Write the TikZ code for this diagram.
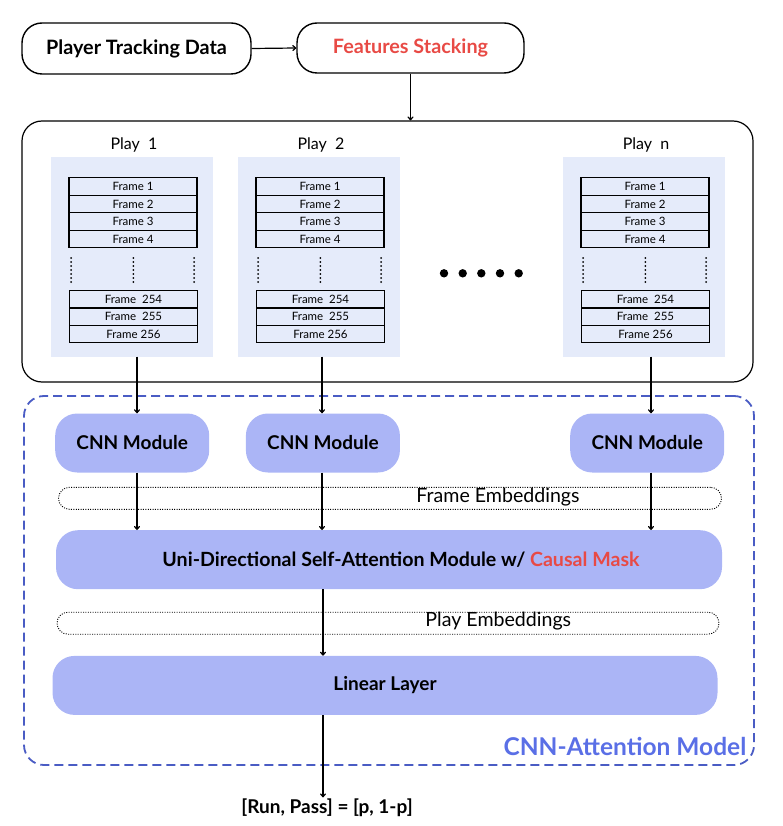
\documentclass[tikz,border=0pt]{standalone}
\usepackage{fontspec}
\setmainfont{Lato}
\usetikzlibrary{arrows.meta}

\definecolor{stackred}{HTML}{E84A45}
\definecolor{modfill}{HTML}{ABB5F6}
\definecolor{playfill}{HTML}{E5EBFA}
\definecolor{modelline}{HTML}{4A5CC4}
\definecolor{modeltext}{HTML}{5A6FE6}

\tikzset{
  databox/.style={draw, line width=1.4pt, rounded corners=20pt, inner sep=0pt,
    minimum width=229pt, minimum height=51pt, font=\fontsize{19.8}{22}\selectfont\bfseries},
  playsbox/.style={draw, line width=1.2pt, rounded corners=20pt, inner sep=0pt},
  playpanel/.style={fill=playfill, inner sep=0pt, minimum width=162pt, minimum height=199pt},
  playlabel/.style={font=\fontsize{16}{18}\selectfont},
  framebox/.style={draw, line width=1.3pt, fill=playfill, inner sep=0pt,
    minimum width=128pt, minimum height=17.4pt, font=\fontsize{11.5}{13}\selectfont},
  dotcol/.style={line width=2pt, line cap=round, dash pattern=on 0pt off 4pt},
  modbox/.style={fill=modfill, rounded corners=22pt, inner sep=0pt,
    minimum height=59pt, font=\fontsize{19}{22}\selectfont\bfseries},
  embbox/.style={draw, line width=0.9pt, dash pattern=on 1pt off 1.4pt,
    rounded corners=11pt, inner sep=0pt, minimum height=22pt},
  embtext/.style={font=\fontsize{19.6}{22}\selectfont},
  modelbox/.style={draw=modelline, line width=1.8pt, dash pattern=on 9pt off 5pt,
    rounded corners=20pt, inner sep=0pt},
  flow/.style={line width=1.2pt, -{To[length=4pt,width=6pt]}}
}

\begin{document}
\begin{tikzpicture}[x=1pt, y=-1pt]
\useasboundingbox (0,0) rectangle (782,826);

% Dashed model frame
\node[modelbox, minimum width=730pt, minimum height=369pt] (model) at (389,580.5) {};
\node[anchor=east, text=modeltext, font=\fontsize{24.5}{28}\selectfont\bfseries, inner sep=0pt] (modelname) at (746.5,746) {CNN-Attention Model};

% Input boxes
\node[databox] (ptd) at (136.5,48.5) {Player Tracking Data};
\node[databox, minimum width=227pt, minimum height=50pt, text=stackred] (fs) at (410.5,48) {Features Stacking};

% Box holding the plays
\node[playsbox, minimum width=731pt, minimum height=261pt] (plays) at (387.5,251.5) {};

\draw[flow] (ptd.east) -- (fs.west);
\draw[flow] (fs.south) -- (plays.north -| fs.south);

% Plays with their frames
\foreach \n/\x in {1/132, 2/319, n/644} {
  \node[playpanel] (play\n) at (\x,257) {};
  \node[playlabel] (label\n) at (\x+2,145) {Play\ \ \n};
  \foreach \k/\y in {1/186.5, 2/204, 3/221.5, 4/239}
    \node[framebox] (frame\n-\k) at (\x+1,\y) {Frame \k};
  \foreach \k/\y in {254/299.4, 255/316.7}
    \node[framebox] (frame\n-\k) at (\x+1.5,\y) {Frame\ \ \k};
  \node[framebox] (frame\n-256) at (\x+1.5,334.1) {Frame 256};
  \foreach \d in {-61, 1.3, 62}
    \draw[dotcol] (\x+\d,258) -- (\x+\d,283);
}

% Dots between the plays
\foreach \i in {444, 462.7, 481.3, 500, 518.7}
  \fill (\i,273.3) circle (4.2pt);

% Model blocks
\foreach \n/\x in {1/132.2, 2/322.9, n/647.2}
  \node[modbox, minimum width=154pt] (cnn\n) at (\x,443) {CNN Module};

\node[embbox, minimum width=663pt] (femb) at (390,498.3) {};
\node[embtext] (fembtext) at (498,497.5) {Frame Embeddings};

\node[modbox, minimum width=666pt] (att) at (389,559.7) {};
\node[font=\fontsize{19.6}{22}\selectfont\bfseries] (atttext) at (401,559.7) {Uni-Directional Self-Attention Module w/ \textcolor{stackred}{Causal Mask}};

\node[embbox, minimum width=662pt] (pemb) at (388,623.2) {};
\node[embtext] (pembtext) at (498.3,621.5) {Play Embeddings};

\node[modbox, minimum width=665pt] (lin) at (385,685.4) {Linear Layer};

\node[font=\fontsize{19}{22}\selectfont\bfseries, inner sep=1pt] (out) at (327,807.5) {[Run, Pass] = [p, 1-p]};

% Connections through the model
\foreach \n/\a in {1/137, 2/322, n/651} {
  \coordinate (col\n) at (\a,0);
  \draw[flow] (play\n.south -| col\n) -- (cnn\n.north -| col\n);
  \draw[flow] (cnn\n.south -| col\n) -- (att.north -| col\n);
}
\coordinate (mid) at (323,0);
\draw[flow] (att.south -| mid) -- (lin.north -| mid);
\draw[flow] (lin.south -| mid) -- (out.north -| mid);

\end{tikzpicture}
\end{document}
